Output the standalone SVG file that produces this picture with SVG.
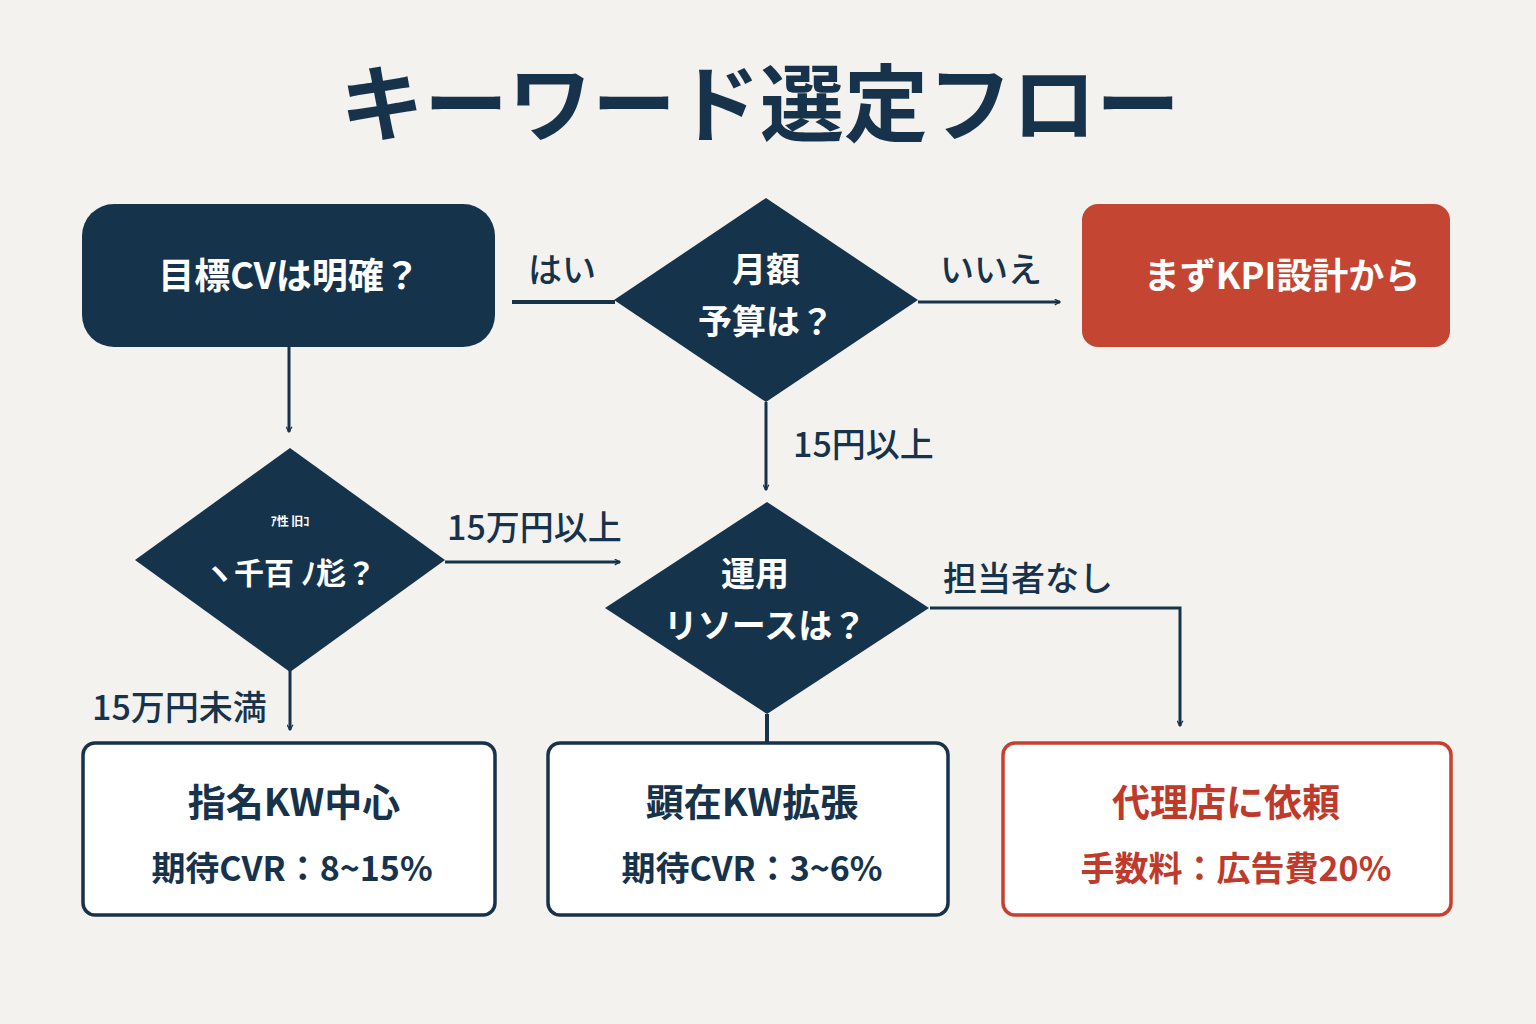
<svg xmlns="http://www.w3.org/2000/svg" width="1536" height="1024" viewBox="0 0 1536 1024">
<style>
text{font-family:"Noto Sans CJK JP","Noto Sans",sans-serif;font-weight:700}
.w{fill:#fff;text-anchor:middle}
.n{fill:#17324b}
.lb{fill:#17324b;font-size:34px;font-weight:500}
.ln{stroke:#17324b;stroke-width:4;fill:none}
.dk{fill:#16334c}
.bx{fill:#fff;stroke:#17324b;stroke-width:3.5}
</style>
<defs><marker id="a" viewBox="0 0 12 12" refX="10" refY="6" markerWidth="7" markerHeight="7" markerUnits="userSpaceOnUse" orient="auto"><path d="M1,1 L10,6 L1,11" fill="none" stroke="#17324b" stroke-width="2.2"/></marker></defs>
<rect width="1536" height="1024" fill="#f3f2ee"/>
<text x="760" y="135" text-anchor="middle" font-size="84" font-weight="900" class="n">キーワード選定フロー</text>
<g id="connectors">
<path class="ln" d="M512,302 H615"/>
<path class="ln" d="M918,302 H1060" marker-end="url(#a)" style="stroke-width:3"/>
<path class="ln" d="M766,402 V490" marker-end="url(#a)" style="stroke-width:3"/>
<path class="ln" d="M289,347 V432" marker-end="url(#a)" style="stroke-width:3"/>
<path class="ln" d="M445,562 H620" marker-end="url(#a)" style="stroke-width:3"/>
<path class="ln" d="M930,608 H1180 V726" marker-end="url(#a)" style="stroke-width:3"/>
<path class="ln" d="M290,670 V730" marker-end="url(#a)" style="stroke-width:3"/>
<path class="ln" d="M767,714 V743"/>
<text x="528" y="282" class="lb">はい</text>
<text x="940" y="282" class="lb">いいえ</text>
<text x="793" y="457" class="lb">15円以上</text>
<text x="447" y="540" class="lb">15万円以上</text>
<text x="943" y="591" class="lb">担当者なし</text>
<text x="92" y="720" class="lb">15万円未満</text>
</g>
<g id="n1"><rect x="82" y="204" width="413" height="143" rx="32" class="dk"/><text x="289" y="289" class="w" font-size="36" font-weight="500">目標CVは明確？</text></g>
<g id="n2"><polygon points="766,198 918,300 766,402 614,300" class="dk"/><text x="766" y="282" class="w" font-size="34" font-weight="500">月額</text><text x="766" y="334" class="w" font-size="34" font-weight="500">予算は？</text></g>
<g id="n3"><rect x="1082" y="204" width="368" height="143" rx="16" fill="#c44632"/><text x="1282" y="289" class="w" font-size="36">まずKPI設計から</text></g>
<g id="n4"><polygon points="290,448 445,560 290,672 135,560" class="dk"/><text x="290" y="526" class="w" font-size="12" font-weight="400">ｱ性 旧ｺ</text><text x="290" y="584" class="w" font-size="30" font-weight="400">ヽ千百 ﾉ尨？</text></g>
<g id="n5"><polygon points="767,502 929,608 767,714 605,608" class="dk"/><text x="755" y="586" class="w" font-size="34" font-weight="500">運用</text><text x="765" y="638" class="w" font-size="34" font-weight="500">リソースは？</text></g>
<g id="n6"><rect x="83" y="743" width="412" height="172" rx="12" class="bx"/><text x="294" y="816" text-anchor="middle" font-size="38" class="n">指名KW中心</text><text x="292" y="881" text-anchor="middle" font-size="34" class="n">期待CVR：8~15%</text></g>
<g id="n7"><rect x="548" y="743" width="400" height="172" rx="12" class="bx"/><text x="752" y="816" text-anchor="middle" font-size="38" class="n">顕在KW拡張</text><text x="752" y="881" text-anchor="middle" font-size="34" class="n">期待CVR：3~6%</text></g>
<g id="n8"><rect x="1003" y="743" width="448" height="172" rx="12" fill="#fff" stroke="#c7402e" stroke-width="3.5"/><text x="1226" y="816" text-anchor="middle" font-size="38" fill="#c03a2b">代理店に依頼</text><text x="1236" y="881" text-anchor="middle" font-size="34" fill="#c03a2b">手数料：広告費20%</text></g>
</svg>
